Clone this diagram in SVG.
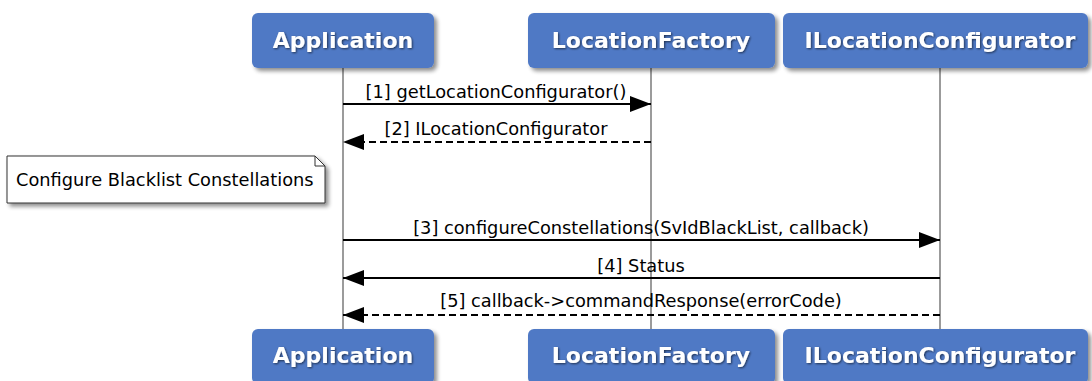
<svg xmlns="http://www.w3.org/2000/svg" width="1092" height="381" viewBox="0 0 1092 381">
<style>
.box{fill:#5079c5;}
.ptext{font-family:"DejaVu Sans",sans-serif;font-weight:bold;font-size:22px;fill:#fff;text-anchor:middle;}
.life{stroke:#7a7a7a;stroke-width:1.5;fill:none;}
.msg{stroke:#000;stroke-width:2;fill:none;}
.dash{stroke-dasharray:7,4;}
.mtext{font-family:"DejaVu Sans",sans-serif;font-size:17.8px;fill:#000;text-anchor:middle;}
.ntext{font-family:"DejaVu Sans",sans-serif;font-size:17.8px;fill:#000;}
</style>
<defs>
<filter id="sh" x="-10%" y="-20%" width="130%" height="160%">
<feGaussianBlur in="SourceAlpha" stdDeviation="2"/>
<feOffset dx="3" dy="3" result="b"/>
<feComponentTransfer><feFuncA type="linear" slope="0.45"/></feComponentTransfer>
<feMerge><feMergeNode/><feMergeNode in="SourceGraphic"/></feMerge>
</filter>
<filter id="tsh" x="-10%" y="-30%" width="120%" height="160%">
<feGaussianBlur in="SourceAlpha" stdDeviation="1"/>
<feOffset dx="1" dy="1"/>
<feComponentTransfer><feFuncA type="linear" slope="0.6"/></feComponentTransfer>
<feMerge><feMergeNode/><feMergeNode in="SourceGraphic"/></feMerge>
</filter>
<marker id="ah" markerWidth="21" markerHeight="16" refX="21" refY="8" orient="auto" markerUnits="userSpaceOnUse">
<path d="M0,0 L21,8 L0,16 Z" fill="#000"/>
</marker>
</defs>
<g id="lifelines">
<line class="life" x1="343" y1="68" x2="343" y2="329"/>
<line class="life" x1="651" y1="68" x2="651" y2="329"/>
<line class="life" x1="940" y1="68" x2="940" y2="329"/>
</g>
<g id="p-application">
<rect class="box" x="252" y="13" width="182" height="55" rx="6" filter="url(#sh)"/>
<text class="ptext" x="343" y="48" filter="url(#tsh)">Application</text>
<rect class="box" x="252" y="329" width="182" height="55" rx="6" filter="url(#sh)"/>
<text class="ptext" x="343" y="363" filter="url(#tsh)">Application</text>
</g>
<g id="p-locationfactory">
<rect class="box" x="528" y="13" width="247" height="55" rx="6" filter="url(#sh)"/>
<text class="ptext" x="651" y="48" filter="url(#tsh)">LocationFactory</text>
<rect class="box" x="528" y="329" width="247" height="55" rx="6" filter="url(#sh)"/>
<text class="ptext" x="651" y="363" filter="url(#tsh)">LocationFactory</text>
</g>
<g id="p-ilocationconfigurator">
<rect class="box" x="783" y="13" width="305" height="55" rx="6" filter="url(#sh)"/>
<text class="ptext" x="940" y="48" filter="url(#tsh)">ILocationConfigurator</text>
<rect class="box" x="783" y="329" width="305" height="55" rx="6" filter="url(#sh)"/>
<text class="ptext" x="940" y="363" filter="url(#tsh)">ILocationConfigurator</text>
</g>
<g id="note">
<path d="M7,156 L315,156 L325,166 L325,203 L7,203 Z" fill="#fff" stroke="#333" stroke-width="1" filter="url(#sh)"/>
<path d="M315,156 L315,166 L325,166" fill="none" stroke="#333" stroke-width="1"/>
<text class="ntext" x="16" y="186">Configure Blacklist Constellations</text>
</g>
<g id="connectors">
<line class="msg" x1="343" y1="104" x2="651" y2="104" marker-end="url(#ah)"/>
<text class="mtext" x="496" y="98">[1] getLocationConfigurator()</text>
<line class="msg dash" x1="651" y1="142" x2="343" y2="142" marker-end="url(#ah)"/>
<text class="mtext" x="496" y="135">[2] ILocationConfigurator</text>
<line class="msg" x1="343" y1="240" x2="940" y2="240" marker-end="url(#ah)"/>
<text class="mtext" x="641" y="234">[3] configureConstellations(SvIdBlackList, callback)</text>
<line class="msg" x1="940" y1="278" x2="343" y2="278" marker-end="url(#ah)"/>
<text class="mtext" x="641" y="272">[4] Status</text>
<line class="msg dash" x1="940" y1="315" x2="343" y2="315" marker-end="url(#ah)"/>
<text class="mtext" x="641" y="307">[5] callback-&gt;commandResponse(errorCode)</text>
</g>
</svg>
